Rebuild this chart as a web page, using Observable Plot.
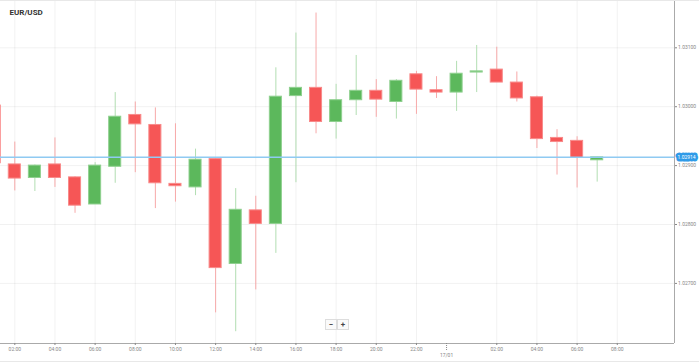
<!DOCTYPE html>
<html>
<head>
<meta charset="utf-8">
<script src="https://cdn.jsdelivr.net/npm/d3@7"></script>
<script src="https://cdn.jsdelivr.net/npm/@observablehq/plot@0.6"></script>
<style>
  html, body { margin: 0; padding: 0; background: #fff; }
  #wrap { position: relative; width: 699px; height: 363px; font-family: Roboto, "Open Sans", sans-serif; overflow: hidden; }
  #wrap svg { display: block; }
  .zb { position: absolute; top: 319px; width: 10px; height: 9px; border: 1px solid #ddd; background: #fafafa;
        font: bold 8px/9px Roboto, sans-serif; color: #444; text-align: center; }
  .hline { position: absolute; left: 0; width: 699px; height: 1px; background: #e8e8e8; }
</style>
</head>
<body>
<div id="wrap"></div>
<script>
// Hourly candles, 16/01 01:00 through 17/01 07:00
const times = ["01:00","02:00","03:00","04:00","05:00","06:00","07:00","08:00","09:00","10:00",
  "11:00","12:00","13:00","14:00","15:00","16:00","17:00","18:00","19:00","20:00","21:00","22:00",
  "23:00","00:00","01:00","02:00","03:00","04:00","05:00","06:00","07:00"];
const open  = [1.03002,1.02902,1.02879,1.02902,1.02880,1.02834,1.02898,1.02986,1.02969,1.02869,
  1.02863,1.02911,1.02733,1.02824,1.02801,1.03018,1.03032,1.02974,1.03011,1.03027,1.03008,1.03055,
  1.03028,1.03024,1.03058,1.03063,1.03041,1.03016,1.02947,1.02942,1.02909];
const high  = [1.03005,1.02940,1.02901,1.02947,1.02881,1.02905,1.03024,1.03008,1.02998,1.02971,
  1.02928,1.02912,1.02861,1.02848,1.03066,1.03125,1.03159,1.03038,1.03087,1.03046,1.03046,1.03060,
  1.03051,1.03077,1.03104,1.03101,1.03059,1.03018,1.02961,1.02949,1.02914];
const low   = [1.02900,1.02857,1.02856,1.02863,1.02819,1.02834,1.02870,1.02888,1.02827,1.02838,
  1.02849,1.02650,1.02618,1.02689,1.02751,1.02871,1.02954,1.02945,1.02985,1.02982,1.02979,1.02987,
  1.03014,1.02992,1.03024,1.03041,1.03008,1.02929,1.02884,1.02862,1.02872];
const close = [1.02904,1.02878,1.02900,1.02879,1.02832,1.02900,1.02983,1.02970,1.02870,1.02865,
  1.02910,1.02726,1.02825,1.02801,1.03017,1.03032,1.02974,1.03011,1.03027,1.03012,1.03044,1.03029,
  1.03024,1.03056,1.03060,1.03041,1.03014,1.02945,1.02940,1.02913,1.02914];

// x tick positions (hour index, 1 = 16/01 01:00) and their labels
const xTicks = [2,4,6,8,10,12,14,16,18,20,22,26,28,30,32];
const xTickLabels = ["02:00","04:00","06:00","08:00","10:00","12:00","14:00","16:00","18:00",
  "20:00","22:00","02:00","04:00","06:00","08:00"];
const dateMark = 23.5;
const dateLabel = "17/01";
const yTicks = [1.027, 1.028, 1.029, 1.030, 1.031];
const title = "EUR/USD";

const candles = times.map((time, i) => ({
  t: i + 1, time, open: open[i], high: high[i], low: low[i], close: close[i],
  up: close[i] >= open[i]
}));
const last = close[close.length - 1];

const xDomain = [1.288, 34.85];
const yDomain = [1.02598, 1.031803];

const RED = "#f65656", RED_B = "#f88a8a", RED_W = "#f7a9a9";
const GRN = "#5cb85c", GRN_B = "#8fd08f", GRN_W = "#b2deb2";

const chart = Plot.plot({
  width: 699,
  height: 363,
  marginLeft: 0,
  marginRight: 25,
  marginTop: 0,
  marginBottom: 20,
  style: { fontFamily: "Roboto, 'Open Sans', sans-serif", background: "#fff" },
  x: { type: "linear", domain: xDomain, axis: null },
  y: { domain: yDomain, axis: null },
  marks: [
    Plot.gridX(xTicks, { stroke: "#000", strokeOpacity: 0.055 }),
    Plot.gridY(yTicks, { stroke: "#000", strokeOpacity: 0.055 }),
    Plot.ruleX(candles, { x: "t", y1: "low", y2: "high", stroke: d => d.up ? GRN_W : RED_W, strokeWidth: 1 }),
    Plot.rect(candles, {
      x1: d => d.t - 0.3, x2: d => d.t + 0.3,
      y1: "open", y2: "close",
      fill: d => d.up ? GRN : RED,
      stroke: d => d.up ? GRN_B : RED_B, strokeWidth: 1
    }),
    Plot.ruleY([last], { stroke: "#8fcaf2", strokeWidth: 1.5 }),
    Plot.ruleX([xDomain[1]], { stroke: "#aaa" }),
    Plot.ruleY([yDomain[0]], { stroke: "#aaa" }),
    Plot.axisY(yTicks, {
      anchor: "right", tickFormat: d => d.toFixed(5), fontSize: 5, tickSize: 2,
      tickPadding: 1.5, color: "#888", label: null
    }),
    Plot.axisX(xTicks, {
      anchor: "bottom", tickFormat: (t, i) => xTickLabels[xTicks.indexOf(t)], fontSize: 5, tickSize: 2,
      tickPadding: 2, color: "#888", label: null
    }),
    Plot.axisX([dateMark], {
      anchor: "bottom", tickFormat: () => dateLabel, fontSize: 5, tickSize: 8,
      tickPadding: 1.5, color: "#888", label: null, strokeDasharray: "1,1"
    }),
    Plot.text([last], {
      x: xDomain[1], y: d => d, text: d => d.toFixed(5), dx: 3, textAnchor: "start",
      fontSize: 5, fill: "#fff", stroke: "#2f9be8", strokeWidth: 5, strokeLinejoin: "round"
    }),
    Plot.text([title], {
      frameAnchor: "top-left", dx: 9, dy: 12, textAnchor: "start", lineAnchor: "middle",
      fontSize: 8, fontWeight: "bold", fill: "#333"
    })
  ]
});

const wrap = document.getElementById("wrap");
wrap.appendChild(chart);
const topLine = document.createElement("div"); topLine.className = "hline"; topLine.style.top = "0px";
const botLine = document.createElement("div"); botLine.className = "hline"; botLine.style.top = "361px";
wrap.appendChild(topLine); wrap.appendChild(botLine);
const minusBtn = document.createElement("div"); minusBtn.className = "zb"; minusBtn.style.left = "325px"; minusBtn.textContent = "−";
const plusBtn = document.createElement("div"); plusBtn.className = "zb"; plusBtn.style.left = "337px"; plusBtn.textContent = "+";
wrap.appendChild(minusBtn); wrap.appendChild(plusBtn);
</script>
</body>
</html>
